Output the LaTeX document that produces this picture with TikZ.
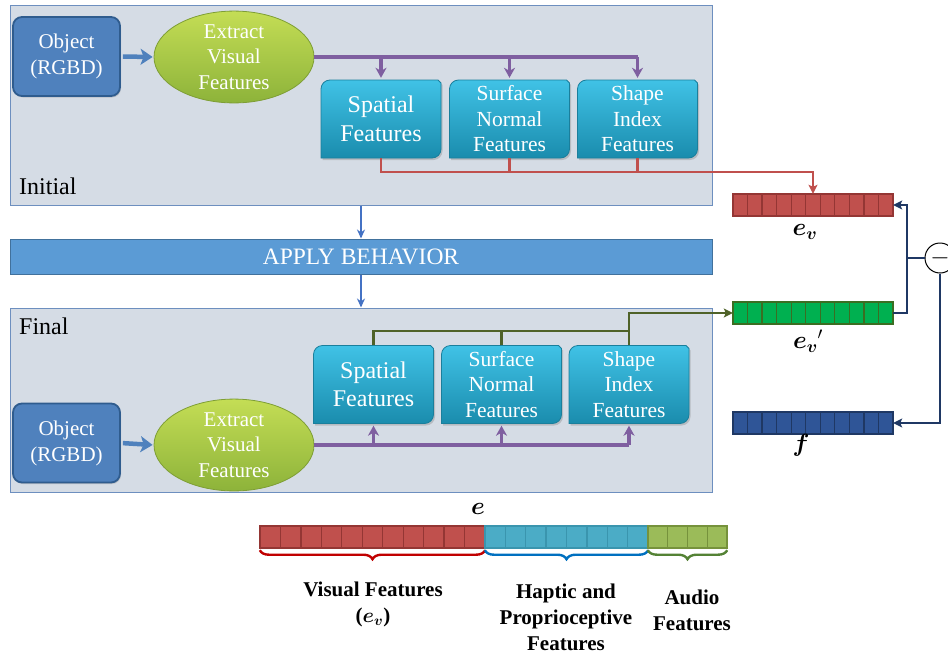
\documentclass[tikz,border=0pt]{standalone}
\usepackage{fontspec}
\usepackage{amsmath}
\setmainfont{Liberation Serif}
\usetikzlibrary{arrows.meta,shapes.geometric,decorations.pathreplacing,shadows,calc}

\definecolor{panelfill}{HTML}{D5DCE5}
\definecolor{panelline}{HTML}{6D8FBF}
\definecolor{objfill}{HTML}{4F81BD}
\definecolor{objline}{HTML}{2F5C8E}
\definecolor{extop}{HTML}{C4DD55}
\definecolor{exbot}{HTML}{8DB33A}
\definecolor{exline}{HTML}{7E9E35}
\definecolor{fttop}{HTML}{40C2E6}
\definecolor{ftbot}{HTML}{1A8CAD}
\definecolor{ftline}{HTML}{1A7F9C}
\definecolor{purp}{HTML}{7F5FA0}
\definecolor{redln}{HTML}{C0504D}
\definecolor{grnln}{HTML}{4F6228}
\definecolor{navyln}{HTML}{1F3864}
\definecolor{flowblue}{HTML}{4472C4}
\definecolor{applyfill}{HTML}{5B9BD5}
\definecolor{applyline}{HTML}{41719C}
\definecolor{cellR}{HTML}{C0504D}\definecolor{cellRl}{HTML}{943634}
\definecolor{cellG}{HTML}{00B050}\definecolor{cellGl}{HTML}{3B6E22}
\definecolor{cellB}{HTML}{2F5597}\definecolor{cellBl}{HTML}{1F3864}
\definecolor{cellC}{HTML}{4BACC6}\definecolor{cellCl}{HTML}{3A95AE}
\definecolor{cellL}{HTML}{9BBB59}\definecolor{cellLl}{HTML}{76923C}
\definecolor{braceR}{HTML}{C00000}
\definecolor{braceB}{HTML}{0070C0}
\definecolor{braceG}{HTML}{548235}

\tikzset{
  panel/.style={draw=panelline, fill=panelfill, line width=1pt, inner sep=0pt},
  objbox/.style={rounded corners=9pt, fill=objfill, draw=objline, line width=1.8pt,
    text=white, align=center, minimum width=107pt, minimum height=79pt, inner sep=0pt,
    font=\fontsize{21}{26}\selectfont,
    drop shadow={opacity=0.3, shadow xshift=1pt, shadow yshift=-1.5pt}},
  extract/.style={ellipse, top color=extop, bottom color=exbot,
    draw=exline, line width=0.8pt, text=white, align=center,
    minimum width=160pt, minimum height=90pt, inner sep=0pt,
    font=\fontsize{21}{25.5}\selectfont},
  featshape/.style={top color=fttop, bottom color=ftbot, draw=ftline,
    line width=0.8pt, drop shadow={opacity=0.35, shadow xshift=1.5pt, shadow yshift=-2pt}},
  feat/.style={text=white, align=center, minimum width=120pt, minimum height=78pt,
    inner sep=0pt, font=\fontsize{21.5}{25.5}\selectfont},
  featbig/.style={font=\fontsize{24}{28.5}\selectfont},
  tag/.style={anchor=base west, font=\fontsize{24}{28}\selectfont, inner sep=0pt},
  objarrow/.style={draw=objfill, line width=4.5pt, -{Stealth[length=12pt,width=16pt,inset=3pt]},
    shorten <=2pt, shorten >=1pt},
  purpline/.style={draw=purp, line width=3.5pt},
  purparrow/.style={purpline, -{Stealth[length=10pt,width=11pt,inset=3pt]}, shorten >=2pt},
  redline/.style={draw=redln, line width=2.2pt},
  grnline/.style={draw=grnln, line width=2.8pt},
  navyline/.style={draw=navyln, line width=2.8pt},
  flow/.style={draw=flowblue, line width=2.4pt, -{Stealth[length=9pt,width=8pt]}},
  bar/.style={minimum width=160pt, minimum height=22pt, inner sep=0pt},
  vlabel/.style={font=\fontsize{26}{30}\selectfont},
  blabel/.style={align=center, font=\bfseries\fontsize{21}{26}\selectfont},
  cbrace/.style={decorate, decoration={brace, mirror, amplitude=9pt, raise=2pt}, line width=2.4pt},
}

% feature box: name, centre x, centre y, extra style, text
\newcommand\featbox[5]{%
  \path[featshape] ({#2-60},{#3-39}) -- ({#2-60},{#3+30})
    arc[start angle=180, end angle=90, radius=9pt] -- ({#2+57},{#3+39})
    -- ({#2+60},{#3+36}) -- ({#2+60},{#3-30})
    arc[start angle=0, end angle=-90, radius=9pt] -- cycle;
  \node[feat,#4] (#1) at (#2,#3) {#5};}

% row of cells: left x, top y, count, total width, fill, line
\newcommand\cellrow[6]{%
  \foreach \i in {1,...,#3}{
    \draw[fill=#5, draw=#6, line width=1.3pt]
      ({#1+(\i-1)*#4/#3},#2) rectangle ++({#4/#3},-22);}}

\begin{document}
\begin{tikzpicture}[x=1pt, y=1pt]
\useasboundingbox (0,0) rectangle (948,-656);

% ---------- initial state ----------
\node[panel, minimum width=702pt, minimum height=200pt] (initp) at (361,-105) {};
\node[tag] (initl) at (19,-194) {Initial};
\node[objbox] (obj1) at (66.5,-56.5) {Object\\(RGBD)};
\node[extract] (ext1) at (234,-57) {Extract\\Visual\\Features};
\draw[objarrow] (obj1.east) -- (ext1.west);

\featbox{sp1}{381}{-119}{featbig}{Spatial\\Features}
\featbox{sn1}{509.5}{-119}{}{Surface\\Normal\\Features}
\featbox{si1}{637.5}{-119}{}{Shape\\Index\\Features}

\draw[purpline] (ext1.east) -- (si1.north |- ext1.east);
\foreach \n in {sp1,sn1,si1}
  \draw[purparrow] (\n.north |- ext1.east) -- (\n.north);

% ---------- behaviour ----------
\node[draw=applyline, fill=applyfill, line width=1pt, minimum width=702pt,
  minimum height=35pt, inner sep=0pt, text=white,
  font=\fontsize{23.5}{27}\selectfont] (apply) at (361,-256.5) {APPLY BEHAVIOR};
\draw[flow] (initp.south) -- (apply.north);

% ---------- final state ----------
\node[panel, minimum width=702pt, minimum height=184pt] (finp) at (361,-400) {};
\draw[flow] (apply.south) -- (finp.north);
\node[tag] (finl) at (19,-334) {Final};
\node[objbox] (obj2) at (66.5,-443) {Object\\(RGBD)};
\node[extract] (ext2) at (234,-445) {Extract\\Visual\\Features};
\draw[objarrow] (obj2.east) -- (ext2.west);

\featbox{sp2}{373.5}{-384.5}{featbig}{Spatial\\Features}
\featbox{sn2}{501.5}{-384.5}{}{Surface\\Normal\\Features}
\featbox{si2}{629}{-384.5}{}{Shape\\Index\\Features}

\draw[purpline] (ext2.east) -- (si2.south |- ext2.east);
\foreach \n in {sp2,sn2,si2}
  \draw[purparrow] (\n.south |- ext2.east) -- (\n.south);

% ---------- feature vectors ----------
\node[bar] (ev) at (813,-205) {};
\cellrow{733}{-194}{11}{160}{cellR}{cellRl}
\node[vlabel] (evl) at (805,-232) {$\boldsymbol{e}_{\boldsymbol{v}}$};

\node[bar] (evp) at (813,-313) {};
\cellrow{733}{-302}{11}{160}{cellG}{cellGl}
\node[vlabel] (evpl) at (808,-341) {${\boldsymbol{e}_{\boldsymbol{v}}}'$};

\node[bar] (fv) at (813,-423) {};
\cellrow{733}{-412}{11}{160}{cellB}{cellBl}
\node[vlabel] (fl) at (801,-445) {$\boldsymbol{f}$};

\node[circle, draw, fill=white, line width=1pt, minimum size=30pt, inner sep=0pt,
  font=\fontsize{26}{26}\selectfont] (minus) at (940,-258) {$-$};

% initial features into e_v
\coordinate (rj) at (0,-172);
\draw[redline, -{Stealth[length=9pt,width=9pt,inset=2pt]}] (sp1.south) -- (sp1.south |- rj) -| (ev.north);
\draw[redline] (sn1.south) -- (sn1.south |- rj);
\draw[redline] (si1.south) -- (si1.south |- rj);

% final features into e_v'
\coordinate (gj) at (0,-331);
\draw[grnline] (sp2.north) -- (sp2.north |- gj) -- (si2.north |- gj);
\draw[grnline] (sn2.north) -- (sn2.north |- gj);
\draw[grnline, -{Stealth[length=9pt,width=9pt,inset=2pt]}] (si2.north) -- (si2.north |- evp.west) -- (evp.west);

% difference of the two visual vectors
\coordinate (dx) at (907,0);
\draw[navyline, -{Stealth[length=9pt,width=9pt,inset=2pt]}] (evp.east) -- (evp.east -| dx) |- (ev.east);
\draw[navyline] (minus.west) -- (minus.west -| dx);
\draw[navyline, -{Stealth[length=9pt,width=9pt,inset=2pt]}] (minus.south) |- (fv.east);

% ---------- full feature vector ----------
\node[inner sep=0pt, minimum width=225pt, minimum height=22pt] (ered) at (372.5,-537) {};
\node[inner sep=0pt, minimum width=163pt, minimum height=22pt] (ehap) at (566.5,-537) {};
\node[inner sep=0pt, minimum width=79pt, minimum height=22pt] (eaud) at (687.5,-537) {};
\cellrow{260}{-526}{11}{225}{cellR}{cellRl}
\cellrow{485}{-526}{8}{163}{cellC}{cellCl}
\cellrow{648}{-526}{4}{79}{cellL}{cellLl}
\node[vlabel] (el) at (478,-509) {$\boldsymbol{e}$};

\draw[cbrace, draw=braceR] (ered.south west) -- (ered.south east);
\draw[cbrace, draw=braceB] (ehap.south west) -- (ehap.south east);
\draw[cbrace, draw=braceG] (eaud.south west) -- (eaud.south east);

\node[blabel] (visl) at (373,-604) {Visual Features\\($\boldsymbol{e}_{\boldsymbol{v}}$)};
\node[blabel] (hapl) at (566,-617) {Haptic and\\Proprioceptive\\Features};
\node[blabel] (audl) at (692,-610) {Audio\\Features};
\end{tikzpicture}
\end{document}
